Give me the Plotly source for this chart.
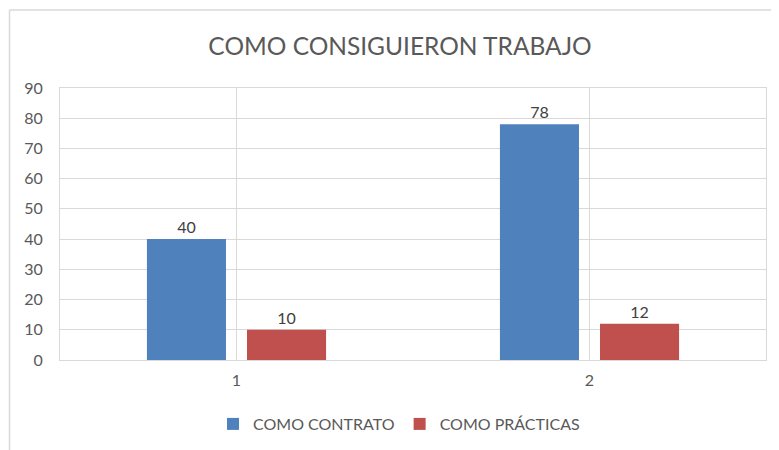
import plotly.graph_objects as go

categories = ["1", "2"]
contrato = [40, 78]
practicas = [10, 12]
series_names = ["COMO CONTRATO", "COMO PRÁCTICAS"]
y_ticks = [0, 10, 20, 30, 40, 50, 60, 70, 80, 90]

FONT = "Lato, 'Open Sans', sans-serif"
GRID = "#d9d9d9"
TXT = "#595959"

fig = go.Figure()
fig.add_trace(go.Bar(
    x=categories, y=contrato, name=series_names[0],
    marker=dict(color="#4f81bd", line=dict(color="#4f81bd", width=0)),
    text=contrato, textposition="outside",
    textfont=dict(size=16, color="#404040", family=FONT),
    cliponaxis=False
))
fig.add_trace(go.Bar(
    x=categories, y=practicas, name=series_names[1],
    marker=dict(color="#c0504d", line=dict(color="#c0504d", width=0)),
    text=practicas, textposition="outside",
    textfont=dict(size=16, color="#404040", family=FONT),
    cliponaxis=False
))

# page has an 8px body margin, so the figure is 771x442
W, H = 771, 442
L, R, T, B = 52, 13, 80, 90
pw, ph = W - L - R, H - T - B

# chart frame: only the top and left edges are visible
fx0, fy_top, fy_bot = (1.5 - L) / pw, (H - B - 2) / ph, (H - B - 445) / ph
fig.add_shape(type="line", xref="paper", yref="paper",
              x0=fx0, x1=(800 - L) / pw, y0=fy_top, y1=fy_top,
              line=dict(color="#d9d9d9", width=1.5), layer="below")
fig.add_shape(type="line", xref="paper", yref="paper",
              x0=fx0, x1=fx0, y0=fy_top, y1=fy_bot,
              line=dict(color="#d9d9d9", width=1.5), layer="below")

fig.update_layout(
    width=W, height=H,
    margin=dict(l=L, r=R, t=T, b=B, autoexpand=False),
    paper_bgcolor="white", plot_bgcolor="white",
    barmode="group", bargap=0.433, bargroupgap=0.21,
    title=dict(text="COMO CONSIGUIERON TRABAJO", x=(392 - L) / pw, xref="paper",
               y=1 - 38 / H, yref="container", yanchor="middle", xanchor="center",
               font=dict(family=FONT, size=24.5, color=TXT)),
    font=dict(family=FONT, color=TXT),
    legend=dict(orientation="h", x=(391 - L) / pw, xanchor="center",
                y=(H - B - 416) / ph, yanchor="middle",
                font=dict(size=16, color=TXT, family=FONT),
                itemwidth=30, traceorder="normal"),
    showlegend=True,
)
fig.update_xaxes(
    showgrid=True, gridcolor=GRID, gridwidth=1,
    showline=True, linecolor=GRID, mirror=True,
    tickfont=dict(size=16, color=TXT), ticks="outside", ticklen=6, tickcolor="white",
)
fig.update_yaxes(
    range=[0, 90], tickvals=y_ticks,
    showgrid=True, gridcolor=GRID, gridwidth=1,
    showline=True, linecolor=GRID, mirror=True,
    zeroline=False,
    tickfont=dict(size=16, color=TXT), ticks="outside", ticklen=13, tickcolor="white",
)

fig.write_html("out.html")
